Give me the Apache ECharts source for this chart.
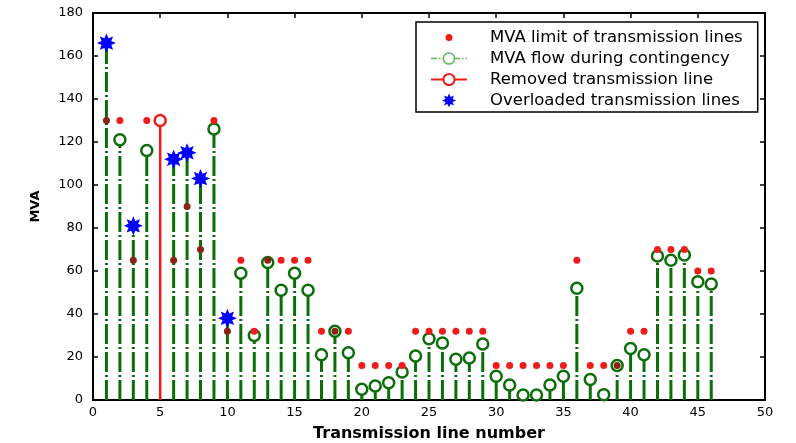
<!DOCTYPE html>
<html><head><meta charset="utf-8">
<script src="https://cdn.jsdelivr.net/npm/echarts@6/dist/echarts.min.js"></script>
<style>html,body{margin:0;padding:0;background:#fff}#c{width:796px;height:443px}</style>
</head><body><div id="c"></div>
<script>
// ---- data ----
const lineNumbers = [1,2,3,4,5,6,7,8,9,10,11,12,13,14,15,16,17,18,19,20,21,22,23,24,25,26,27,28,29,30,31,32,33,34,35,36,37,38,39,40,41,42,43,44,45,46];
const mvaLimits = [130,130,65,130,130,65,90,70,130,32,65,32,65,65,65,65,32,32,32,16,16,16,16,32,32,32,32,32,32,16,16,16,16,16,16,65,16,16,16,32,32,70,70,70,60,60];
const mvaFlows  = [166,121,81,116,130,112,115,103,126,38,59,30,64,51,59,51,21,32,22,5,6.5,8,13,20.5,28.5,26.5,19,19.5,26,11,7,2.3,2.3,7,11,52,9.5,2.5,16,24,21,67,65,67.5,55,54];
const removedLine = 5;
const overloadedLines = [1,3,6,7,8,10];
const xTickRange = {min:0, max:50, interval:5};
const yTickRange = {min:0, max:180, interval:20};
const seriesNames = ['MVA limit of transmission lines','MVA flow during contingency','Removed transmission line','Overloaded transmission lines'];

// ---- styles ----
const GREEN = '#0b6e0b';
const RED = '#f01c1c';
const FONT = 'DejaVu Sans';
const STAR = 'path://M10 0L12.1 4.92L17.07 2.93L15.08 7.9L20 10L15.08 12.1L17.07 17.07L12.1 15.08L10 20L7.9 15.08L2.93 17.07L4.92 12.1L0 10L4.92 7.9L2.93 2.93L7.9 4.92Z';

const limitData = lineNumbers.map((n,i)=>{
  const covered = n !== removedLine && mvaFlows[i] >= mvaLimits[i] - 1.5;
  return {value:[n, mvaLimits[i]], itemStyle:{color: covered ? '#8a2314' : RED}};
});
const flowData = [];
lineNumbers.forEach((n,i)=>{
  if (n === removedLine) return;
  flowData.push({value:[n,0], symbol:'none'});
  if (overloadedLines.includes(n)) flowData.push({value:[n, mvaFlows[i]], symbol:'none'});
  else flowData.push({value:[n, mvaFlows[i]]});
  flowData.push({value:[n,'-'], symbol:'none'});
});
const ri = lineNumbers.indexOf(removedLine);
const removedData = [{value:[removedLine,0], symbol:'none'}, {value:[removedLine, mvaFlows[ri]]}];
const starData = overloadedLines.map(n => [n, mvaFlows[lineNumbers.indexOf(n)]]);

const axisCommon = {
  axisLine:{show:true, onZero:false, lineStyle:{color:'#000', width:2}},
  axisTick:{show:true, inside:true, length:5, lineStyle:{color:'#000', width:1.5}},
  splitLine:{show:false}
};

const chart = echarts.init(document.getElementById('c'), null, {renderer:'canvas'});
chart.setOption({
  animation:false,
  backgroundColor:'#fff',
  grid:{left:93, top:13, right:31, bottom:43, containLabel:false, outerBoundsMode:'none'},
  xAxis:[
    Object.assign({type:'value', position:'bottom', min:xTickRange.min, max:xTickRange.max, interval:xTickRange.interval,
      axisLabel:{color:'#000', fontFamily:FONT, fontSize:13, margin:6},
      name:'Transmission line number', nameLocation:'middle', nameGap:26,
      nameTextStyle:{color:'#000', fontFamily:FONT, fontWeight:'bold', fontSize:16}}, axisCommon),
    Object.assign({type:'value', position:'top', min:xTickRange.min, max:xTickRange.max, interval:xTickRange.interval,
      axisLabel:{show:false}}, axisCommon)
  ],
  yAxis:[
    Object.assign({type:'value', position:'left', min:yTickRange.min, max:yTickRange.max, interval:yTickRange.interval,
      axisLabel:{color:'#000', fontFamily:FONT, fontSize:13, margin:10},
      name:'MVA', nameLocation:'middle', nameGap:51, nameRotate:90,
      nameTextStyle:{color:'#000', fontFamily:FONT, fontWeight:'bold', fontSize:13}}, axisCommon),
    Object.assign({type:'value', position:'right', min:yTickRange.min, max:yTickRange.max, interval:yTickRange.interval,
      axisLabel:{show:false}}, axisCommon)
  ],
  legend:{
    orient:'vertical', left:416, top:22,
    padding:[7,15,3,14], itemGap:4, itemWidth:36, itemHeight:14,
    backgroundColor:'#fff', borderColor:'#000', borderWidth:1.5,
    textStyle:{color:'#000', fontFamily:FONT, fontSize:16.5, lineHeight:16, padding:[0,0,0,18]},
    data:[
      {name:seriesNames[0], icon:'path://M0 0M36 14M14.5 7A3.5 3.5 0 1 1 21.5 7A3.5 3.5 0 1 1 14.5 7Z'},
      {name:seriesNames[1], lineStyle:{color:'#5cb85c', width:1.5, type:[6,2,1.5,2]}, itemStyle:{borderColor:'#5cb85c', borderWidth:1.5}},
      {name:seriesNames[2]},
      {name:seriesNames[3]}
    ]
  },
  series:[
    {name:seriesNames[0], type:'scatter', xAxisIndex:0, yAxisIndex:0, z:3,
      symbol:'circle', symbolSize:7, itemStyle:{color:RED, opacity:1}, data:limitData},
    {name:seriesNames[1], type:'line', xAxisIndex:0, yAxisIndex:0, z:2, connectNulls:false,
      symbol:'circle', symbolSize:11, showAllSymbol:true,
      lineStyle:{color:GREEN, width:3, type:[20,3,2,3]},
      itemStyle:{color:'#fff', borderColor:GREEN, borderWidth:2.5},
      data:flowData},
    {name:seriesNames[2], type:'line', xAxisIndex:0, yAxisIndex:0, z:4,
      symbol:'circle', symbolSize:11,
      lineStyle:{color:RED, width:2.5},
      itemStyle:{color:'#fff', borderColor:RED, borderWidth:2.5},
      data:removedData},
    {name:seriesNames[3], type:'scatter', xAxisIndex:0, yAxisIndex:0, z:5,
      symbol:STAR, symbolSize:19, itemStyle:{color:'#0000ff', opacity:1}, data:starData}
  ]
});
</script></body></html>
